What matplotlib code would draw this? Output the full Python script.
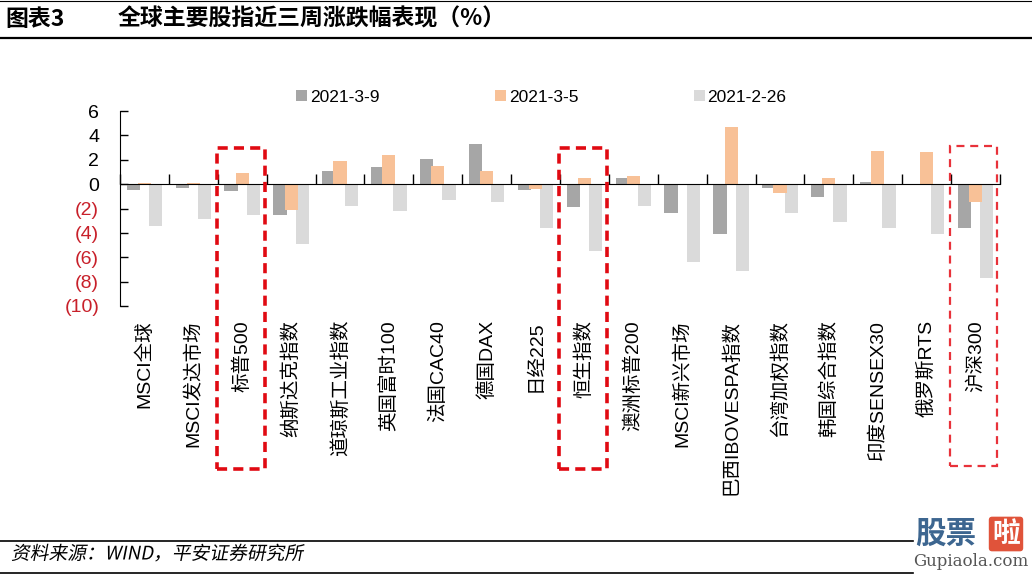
import matplotlib
matplotlib.use("Agg")
import matplotlib.pyplot as plt
from matplotlib.patches import Rectangle
from matplotlib.lines import Line2D
from matplotlib.transforms import Affine2D
import matplotlib.patheffects as pe
import numpy as np

plt.rcParams['font.family'] = ['Liberation Sans', 'Noto Sans CJK SC', 'DejaVu Sans']

### data
names = ['MSCI全球', 'MSCI发达市场', '标普500', '纳斯达克指数', '道琼斯工业指数',
         '英国富时100', '法国CAC40', '德国DAX', '日经225', '恒生指数',
         '澳洲标普200', 'MSCI新兴市场', '巴西IBOVESPA指数', '台湾加权指数',
         '韩国综合指数', '印度SENSEX30', '俄罗斯RTS', '沪深300']
w_0309 = [-0.5, -0.3, -0.6, -2.5, 1.05, 1.4, 2.1, 3.3, -0.5, -1.9,
          0.5, -2.4, -4.1, -0.3, -1.05, 0.15, 0.0, -3.6]
w_0305 = [0.1, 0.1, 0.9, -2.1, 1.9, 2.4, 1.5, 1.1, -0.4, 0.5,
          0.7, -0.05, 4.7, -0.7, 0.5, 2.7, 2.6, -1.45]
w_0226 = [-3.4, -2.9, -2.5, -4.9, -1.8, -2.2, -1.3, -1.5, -3.6, -5.5,
          -1.8, -6.4, -7.1, -2.4, -3.1, -3.6, -4.1, -7.7]
series_names = ['2021-3-9', '2021-3-5', '2021-2-26']
colors = ['#A6A6A6', '#F8C197', '#DADADA']
yticks = [6, 4, 2, 0, -2, -4, -6, -8, -10]
highlight = ['标普500', '恒生指数', '沪深300']


# fake italic for CJK text (no italic face installed)
class Slant(pe.AbstractPathEffect):
    def __init__(self, y0, deg=11):
        super().__init__()
        self.y0 = y0
        self.deg = deg

    def draw_path(self, renderer, gc, tpath, affine, rgbFace=None):
        sk = Affine2D().translate(0, -self.y0).skew_deg(self.deg, 0).translate(0, self.y0)
        renderer.draw_path(gc, tpath, affine + sk, rgbFace)


fig = plt.figure(figsize=(10.32, 5.75), dpi=100)
ax = fig.add_axes([120/1032, 269/575, 880/1032, 195/575])

x = np.arange(len(names))
off = 0.228
bw = 0.27
for i, (vals, c, lab) in enumerate(zip([w_0309, w_0305, w_0226], colors, series_names)):
    ax.bar(x + (i - 1) * off, vals, bw, color=c, label=lab, zorder=2 + (i == 1))

ax.set_xlim(-0.5, len(names) - 0.5)
ax.set_ylim(-10, 6)

# y axis
ax.set_yticks(yticks)
ax.set_yticklabels([str(v) if v >= 0 else '(%d)' % -v for v in yticks])
for t, v in zip(ax.get_yticklabels(), yticks):
    if v < 0:
        t.set_color('#C8202A')
ax.tick_params(axis='y', direction='in', length=6, width=1, labelsize=14, pad=15)

# x axis line at zero with ticks between categories
ax.spines['top'].set_visible(False)
ax.spines['right'].set_visible(False)
ax.spines['bottom'].set_position(('data', 0))
ax.spines['bottom'].set_zorder(5)
ax.set_xticks(np.arange(-0.5, len(names)), minor=True)
ax.set_xticks([])
ax.tick_params(axis='x', which='minor', direction='in', length=7, width=1)

sec = ax.secondary_xaxis('bottom')
sec.set_xticks(x)
sec.set_xticklabels(names, rotation=90, va='top', ha='center')
sec.tick_params(length=0, labelsize=14, pad=10)
sec.spines['bottom'].set_visible(False)

# legend
leg = ax.legend(loc='center left', bbox_to_anchor=(176/880, 1 + 14/195), ncol=3, frameon=False,
                fontsize=12.5, handlelength=0.65, handleheight=0.65, handletextpad=0.15,
                columnspacing=6.65, borderaxespad=0.0, borderpad=0.0)

# highlight boxes
for nm in highlight:
    k = names.index(nm)
    if nm == '沪深300':
        ax.add_patch(Rectangle((k - 0.52, -23.1), 0.96, 26.2, fill=False, ec='#E8323A',
                               lw=1.6, ls=(0, (3.6, 2.6)), clip_on=False, zorder=6))
    else:
        ax.add_patch(Rectangle((k - 0.52, -23.4), 0.98, 26.4, fill=False, ec='#E00A12',
                               lw=2.6, ls=(0, (2.8, 1.7)), clip_on=False, zorder=6))

# header
fig.add_artist(Line2D([0, 1], [574/575, 574/575], color='black', lw=0.8))
fig.add_artist(Line2D([0, 1], [537/575, 537/575], color='black', lw=1.6))
fig.text(5/1032, 556/575, '图表3', fontsize=16.5, fontweight='bold', va='center',
         family=['Noto Sans CJK SC', 'DejaVu Sans'])
fig.text(118/1032, 556/575, '全球主要股指近三周涨跌幅表现（%）', fontsize=16.5,
         fontweight='bold', va='center', family=['Noto Sans CJK SC', 'DejaVu Sans'])

# footer
fig.add_artist(Line2D([0, 913/1032], [34/575, 34/575], color='black', lw=1.2))
fig.add_artist(Line2D([0, 913/1032], [2/575, 2/575], color='black', lw=1.2))
fig.text(12/1032, 21/575, '资料来源：WIND，平安证券研究所', fontsize=13.5,
         va='center', family=['Noto Sans CJK SC', 'DejaVu Sans'],
         path_effects=[Slant(21)])

# watermark
fig.text(915/1032, 41/575, '股票', fontsize=22, fontweight='bold', color='#3D6690',
         va='center', family=['Noto Sans CJK SC', 'DejaVu Sans'])
fig.text(1006/1032, 41/575, '啦', fontsize=20, fontweight='bold', color='white',
         va='center', ha='center', family=['Noto Sans CJK SC', 'DejaVu Sans'],
         bbox=dict(boxstyle='round,pad=0.12', fc='#E0533A', ec='none'))
fig.text(1028/1032, 13/575, 'Gupiaola.com', fontsize=12, color='#555555',
         va='center', ha='right', family='DejaVu Serif')

fig.savefig('out.png', dpi=100)
